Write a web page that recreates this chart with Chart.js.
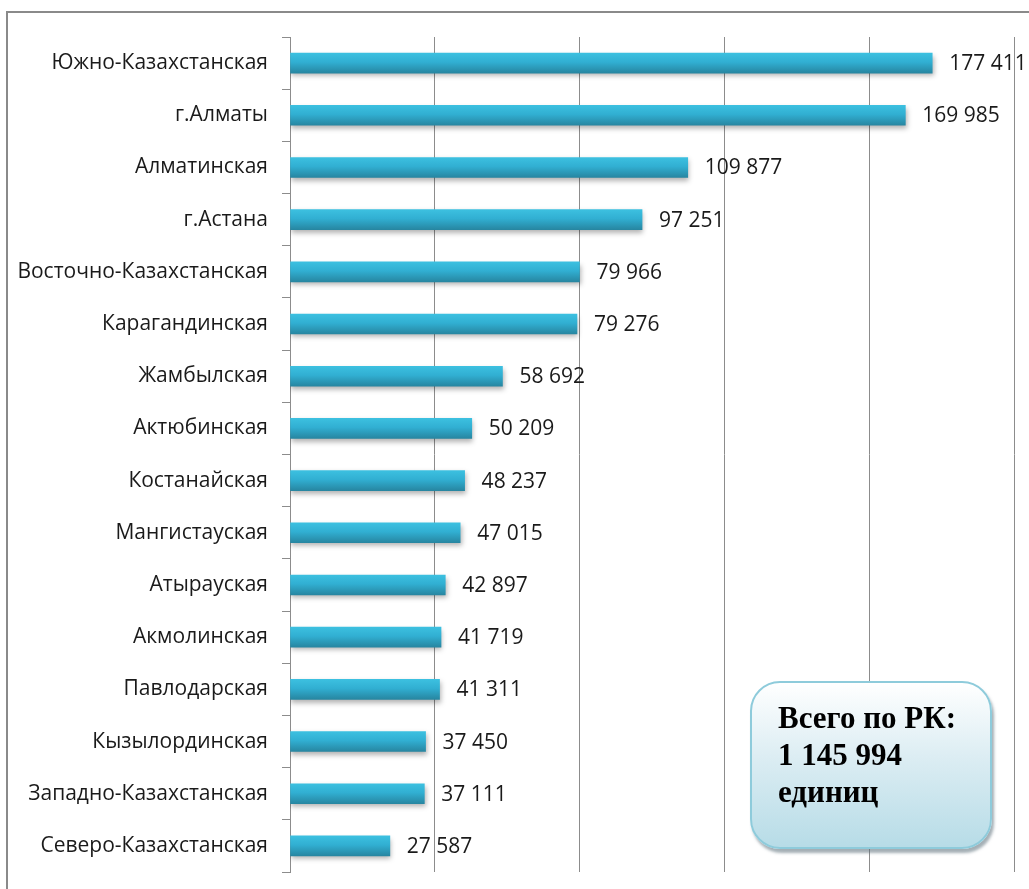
<!DOCTYPE html>
<html>
<head>
<meta charset="utf-8">
<script src="https://cdn.jsdelivr.net/npm/chart.js@4/dist/chart.umd.min.js"></script>
<style>
    body { margin: 0; background: #fff; overflow: hidden; }
    #wrap { position: relative; width: 1029px; height: 889px; }
    #frame { position: absolute; left: 6px; top: 11px; width: 1100px; height: 1000px; border: 2px solid #8a8a8a; box-sizing: border-box; }
    #chart { position: absolute; left: 0; top: 0; }
    #totalBox {
        position: absolute; left: 750px; top: 681px; width: 242px; height: 168px;
        box-sizing: border-box; border: 2px solid #8ecbdb; border-radius: 30px;
        background: linear-gradient(to bottom, #ffffff 0%, #dcedf3 45%, #b7dce7 100%);
        box-shadow: 2px 4px 3px rgba(90, 110, 120, 0.55);
        font-family: "Liberation Serif", "Times New Roman", serif; font-weight: bold;
        font-size: 31px; line-height: 37px; color: #000;
        padding: 16px 0 0 26px;
    }
</style>
</head>
<body>
<div id="wrap">
    <div id="frame"></div>
    <canvas id="chart" width="1029" height="889"></canvas>
    <div id="totalBox">Всего по РК:<br>1 145 994<br>единиц</div>
</div>
<script>
// Regions and their counts
const regions = [
    'Южно-Казахстанская', 'г.Алматы', 'Алматинская', 'г.Астана',
    'Восточно-Казахстанская', 'Карагандинская', 'Жамбылская', 'Актюбинская',
    'Костанайская', 'Мангистауская', 'Атырауская', 'Акмолинская',
    'Павлодарская', 'Кызылординская', 'Западно-Казахстанская', 'Северо-Казахстанская'
];
const counts = [
    177411, 169985, 109877, 97251,
    79966, 79276, 58692, 50209,
    48237, 47015, 42897, 41719,
    41311, 37450, 37111, 27587
];
const xTicks = [0, 40000, 80000, 120000, 160000, 200000];

function fmt(v) {
    return String(v).replace(/\B(?=(\d{3})+(?!\d))/g, ' ');
}

// vertical gradient per bar + drop shadow
const barStyle = {
    id: 'barStyle',
    beforeDatasetDraw(chart) {
        const ctx = chart.ctx;
        chart.getDatasetMeta(0).data.forEach(bar => {
            const top = bar.y - bar.height / 2;
            const g = ctx.createLinearGradient(0, top, 0, top + bar.height);
            g.addColorStop(0, '#3cc0e0');
            g.addColorStop(0.45, '#31afd2');
            g.addColorStop(1, '#2786a1');
            bar.options.backgroundColor = g;
        });
        ctx.save();
        ctx.shadowColor = 'rgba(0, 0, 0, 0.3)';
        ctx.shadowBlur = 5;
        ctx.shadowOffsetX = 1;
        ctx.shadowOffsetY = 3;
    },
    afterDatasetDraw(chart) {
        chart.ctx.restore();
    }
};

const valueLabels = {
    id: 'valueLabels',
    afterDatasetsDraw(chart) {
        const ctx = chart.ctx;
        ctx.save();
        ctx.font = '21px "Open Sans", sans-serif';
        ctx.fillStyle = '#1a1a1a';
        ctx.textBaseline = 'middle';
        chart.getDatasetMeta(0).data.forEach((bar, i) => {
            ctx.fillText(fmt(counts[i]), bar.x + 17, bar.y + 1);
        });
        ctx.restore();
    }
};

const chartEl = document.getElementById('chart');
new Chart(chartEl, {
    type: 'bar',
    data: {
        labels: regions,
        datasets: [{
            data: counts,
            backgroundColor: () => '#31afd2',
            borderWidth: 0,
            barThickness: 20
        }]
    },
    options: {
        indexAxis: 'y',
        responsive: false,
        animation: false,
        layout: { padding: { top: 37, right: 15, bottom: 17, left: 0 } },
        plugins: { legend: { display: false }, tooltip: { enabled: false } },
        scales: {
            x: {
                min: 0,
                max: 200000,
                afterBuildTicks: scale => { scale.ticks = xTicks.map(v => ({ value: v })); },
                afterFit: scale => { scale.height = 0; scale.paddingLeft = 0; scale.paddingRight = 0; },
                ticks: { display: false },
                border: { display: false },
                grid: { color: '#8c8c8c', lineWidth: 1, drawTicks: false }
            },
            y: {
                afterFit: scale => { scale.width = 290; scale.paddingTop = 0; scale.paddingBottom = 0; },
                ticks: {
                    color: '#1a1a1a',
                    padding: 14,
                    font: { family: '"Open Sans", sans-serif', size: 21 }
                },
                border: { color: '#8c8c8c' },
                grid: { offset: true, drawOnChartArea: false, tickLength: 8, color: '#8c8c8c' }
            }
        }
    },
    plugins: [barStyle, valueLabels]
});
</script>
</body>
</html>
